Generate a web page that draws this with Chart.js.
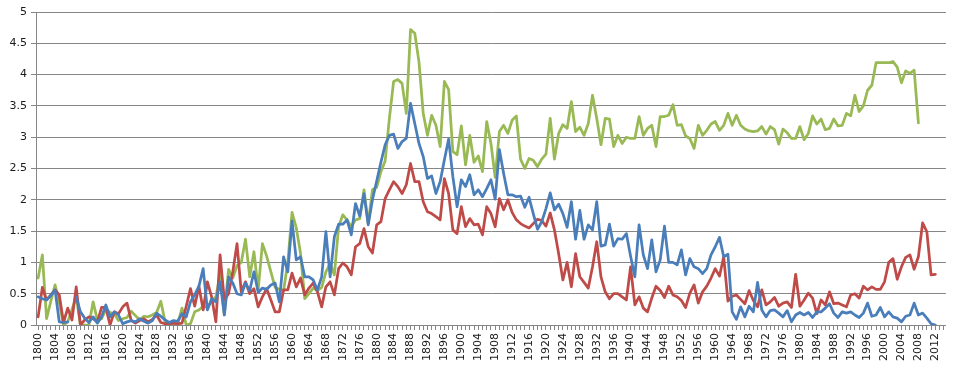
<!DOCTYPE html>
<html>
<head>
<meta charset="utf-8">
<script src="https://cdn.jsdelivr.net/npm/chart.js@4.4.1/dist/chart.umd.min.js"></script>
<style>
  html, body { margin: 0; padding: 0; background: #fff; }
  #wrap { width: 960px; height: 370px; }
</style>
</head>
<body>
<div id="wrap"><canvas id="plotCanvas"></canvas></div>
<script>
// Годы по оси X (ось идёт до 2014, данные до 2012)
let years = [];
for (let y = 1800; y <= 2014; y++) years.push(String(y));

// Синяя серия, 1800–2012
let blue = [
  0.45, 0.42, 0.40, 0.47, 0.56, 0.05, 0.04, 0.05, null, 0.45,
  0.21, 0.11, 0.04, 0.13, 0.03, 0.13, 0.32, 0.13, 0.21, 0.16,
  0.02, 0.05, 0.07, 0.05, 0.10, 0.06, 0.03, 0.07, 0.19, 0.14,
  0.08, 0.04, 0.07, 0.06, 0.18, 0.13, 0.37, 0.48, 0.62, 0.90,
  0.24, 0.42, 0.37, 0.69, 0.16, 0.77, 0.67, 0.50, 0.48, 0.67,
  0.55, 0.85, 0.52, 0.59, 0.57, 0.64, 0.67, 0.37, 1.09, 0.85,
  1.66, 1.04, 1.09, 0.77, 0.77, 0.72, 0.56, 0.77, 1.49, 0.77,
  1.41, 1.61, 1.61, 1.68, 1.44, 1.94, 1.74, 2.10, 1.60, 2.00,
  2.30, 2.60, 2.88, 3.03, 3.05, 2.82, 2.93, 2.98, 3.54, 3.22,
  2.90, 2.69, 2.34, 2.38, 2.10, 2.29, 2.64, 2.97, 2.37, 1.89,
  2.32, 2.21, 2.40, 2.08, 2.16, 2.05, 2.18, 2.32, 2.01, 2.80,
  2.42, 2.08, 2.08, 2.05, 2.06, 1.88, 2.04, 1.78, 1.53, 1.65,
  1.86, 2.11, 1.84, 1.93, 1.78, 1.56, 1.97, 1.37, 1.83, 1.37,
  1.60, 1.52, 1.97, 1.26, 1.28, 1.61, 1.26, 1.38, 1.37, 1.46,
  1.10, 0.77, 1.60, 1.12, 0.90, 1.36, 0.85, 1.04, 1.58, 1.00,
  1.00, 0.96, 1.20, 0.80, 1.06, 0.93, 0.90, 0.82, 0.90, 1.12,
  1.25, 1.40, 1.09, 1.13, 0.21, 0.09, 0.29, 0.13, 0.30, 0.21,
  0.68, 0.24, 0.13, 0.23, 0.24, 0.19, 0.13, 0.23, 0.05, 0.16,
  0.20, 0.16, 0.20, 0.12, 0.21, 0.21, 0.27, 0.34, 0.19, 0.12,
  0.21, 0.19, 0.21, 0.16, 0.12, 0.19, 0.35, 0.14, 0.16, 0.28,
  0.13, 0.21, 0.13, 0.11, 0.05, 0.14, 0.16, 0.35, 0.16, 0.19,
  0.11, 0.02, 0.00
];

// Красная серия, 1800–2012
let red = [
  0.13, 0.60, 0.40, 0.48, 0.56, 0.48, 0.04, 0.27, 0.08, 0.61,
  0.00, 0.08, 0.13, 0.10, 0.05, 0.28, 0.28, 0.00, 0.21, 0.18,
  0.29, 0.35, 0.07, 0.03, 0.07, 0.10, 0.05, 0.09, 0.16, 0.04,
  0.02, 0.02, 0.03, 0.02, 0.03, 0.30, 0.58, 0.30, 0.62, 0.24,
  0.69, 0.45, 0.05, 1.12, 0.40, 0.50, 0.85, 1.30, 0.53, 0.69,
  0.50, 0.58, 0.29, 0.45, 0.58, 0.40, 0.21, 0.21, 0.56, 0.56,
  0.83, 0.61, 0.75, 0.48, 0.59, 0.67, 0.53, 0.29, 0.61, 0.69,
  0.48, 0.90, 0.99, 0.93, 0.80, 1.25, 1.30, 1.54, 1.25, 1.15,
  1.60, 1.65, 2.02, 2.16, 2.29, 2.21, 2.10, 2.24, 2.58, 2.29,
  2.29, 1.97, 1.81, 1.78, 1.73, 1.68, 2.34, 2.10, 1.52, 1.46,
  1.89, 1.57, 1.70, 1.60, 1.61, 1.44, 1.89, 1.78, 1.57, 2.02,
  1.84, 2.00, 1.80, 1.68, 1.62, 1.58, 1.55, 1.62, 1.69, 1.67,
  1.58, 1.79, 1.52, 1.14, 0.72, 1.00, 0.61, 1.14, 0.77, 0.68,
  0.59, 0.93, 1.33, 0.77, 0.53, 0.42, 0.50, 0.50, 0.45, 0.40,
  0.93, 0.32, 0.45, 0.27, 0.21, 0.43, 0.62, 0.55, 0.44, 0.62,
  0.48, 0.45, 0.39, 0.28, 0.51, 0.64, 0.35, 0.53, 0.62, 0.75,
  0.90, 0.78, 1.09, 0.38, 0.46, 0.48, 0.41, 0.34, 0.55, 0.39,
  0.29, 0.56, 0.32, 0.37, 0.44, 0.30, 0.35, 0.37, 0.28, 0.81,
  0.30, 0.40, 0.51, 0.43, 0.18, 0.40, 0.32, 0.53, 0.34, 0.35,
  0.32, 0.29, 0.48, 0.50, 0.43, 0.62, 0.56, 0.61, 0.57, 0.57,
  0.69, 1.00, 1.06, 0.73, 0.93, 1.08, 1.12, 0.89, 1.09, 1.63,
  1.49, 0.80, 0.81
];

// Зелёная серия, 1800–2008
let green = [
  0.75, 1.12, 0.10, 0.38, 0.64, 0.35, 0.00, 0.05, 0.25, 0.45,
  0.00, 0.00, 0.00, 0.37, 0.08, 0.10, 0.25, 0.20, 0.18, 0.07,
  0.10, 0.12, 0.22, 0.15, 0.08, 0.14, 0.13, 0.16, 0.20, 0.38,
  0.05, 0.02, 0.01, 0.03, 0.27, 0.00, 0.02, 0.21, 0.24, 0.30,
  0.28, 0.38, 0.45, 0.80, 0.16, 0.89, 0.75, 0.95, 1.00, 1.37,
  0.77, 1.17, 0.56, 1.30, 1.10, 0.85, 0.60, 0.57, 0.55, 1.00,
  1.80, 1.55, 1.15, 0.42, 0.50, 0.59, 0.55, 0.60, 0.85, 0.98,
  0.80, 1.57, 1.76, 1.68, 1.57, 1.68, 1.70, 2.16, 1.62, 2.16,
  2.20, 2.45, 2.62, 3.30, 3.89, 3.92, 3.86, 3.38, 4.72, 4.66,
  4.20, 3.38, 3.03, 3.35, 3.19, 2.85, 3.89, 3.76, 2.77, 2.72,
  3.18, 2.56, 3.03, 2.60, 2.70, 2.45, 3.25, 2.90, 2.36, 3.09,
  3.19, 3.06, 3.27, 3.34, 2.65, 2.50, 2.66, 2.63, 2.53, 2.65,
  2.73, 3.30, 2.65, 3.06, 3.20, 3.14, 3.57, 3.09, 3.16, 3.03,
  3.22, 3.67, 3.30, 2.88, 3.30, 3.29, 2.85, 3.03, 2.90, 3.00,
  2.98, 2.98, 3.33, 3.03, 3.14, 3.19, 2.85, 3.33, 3.33, 3.35,
  3.52, 3.19, 3.20, 3.02, 2.98, 2.82, 3.19, 3.03, 3.11, 3.21,
  3.25, 3.11, 3.19, 3.38, 3.19, 3.35, 3.19, 3.13, 3.10, 3.09,
  3.10, 3.17, 3.05, 3.17, 3.12, 2.89, 3.13, 3.07, 2.98, 2.98,
  3.17, 2.96, 3.06, 3.34, 3.21, 3.29, 3.12, 3.14, 3.29, 3.18,
  3.19, 3.38, 3.34, 3.67, 3.41, 3.50, 3.75, 3.83, 4.19, 4.19,
  4.19, 4.19, 4.21, 4.12, 3.87, 4.06, 4.02, 4.07, 3.23
];

const gridColor = "#868686";
const textColor = "#1a1a1a";
const font = { family: "DejaVu Sans", size: 11 };

function series(data, color) {
  return {
    data: data,
    borderColor: color,
    backgroundColor: color,
    borderWidth: 2.75,
    pointRadius: 0,
    tension: 0,
    fill: false,
    borderJoinStyle: "round",
    borderCapStyle: "round",
  };
}

const ctx = document.getElementById("plotCanvas").getContext("2d");
new Chart(ctx, {
  type: "line",
  data: {
    labels: years,
    // первая серия рисуется поверх
    datasets: [
      series(blue, "#4a7ebb"),
      series(red, "#be4b48"),
      series(green, "#98b954"),
    ],
  },
  options: {
    responsive: true,
    maintainAspectRatio: false,
    animation: false,
    layout: { padding: { top: 12, right: 10, left: 0, bottom: 0 } },
    plugins: { legend: { display: false }, tooltip: { enabled: false } },
    scales: {
      x: {
        offset: true,
        grid: {
          drawOnChartArea: false,
          drawTicks: true,
          tickLength: 5,
          color: gridColor,
        },
        border: { color: gridColor },
        ticks: {
          autoSkip: false,
          minRotation: 90,
          maxRotation: 90,
          padding: 3,
          color: textColor,
          font: font,
          callback: function (val, idx) {
            return idx % 4 === 0 ? years[idx] : "";
          },
        },
        afterFit: function (scale) {
          scale.height = 45;
        },
      },
      y: {
        min: 0,
        max: 5,
        grid: { color: gridColor, tickLength: 5 },
        border: { color: gridColor },
        ticks: {
          stepSize: 0.5,
          padding: 4,
          color: textColor,
          font: font,
          callback: function (value) {
            return String(Math.round(value * 10) / 10);
          },
        },
        afterFit: function (scale) {
          scale.width = 36;
        },
      },
    },
  },
});
</script>
</body>
</html>
